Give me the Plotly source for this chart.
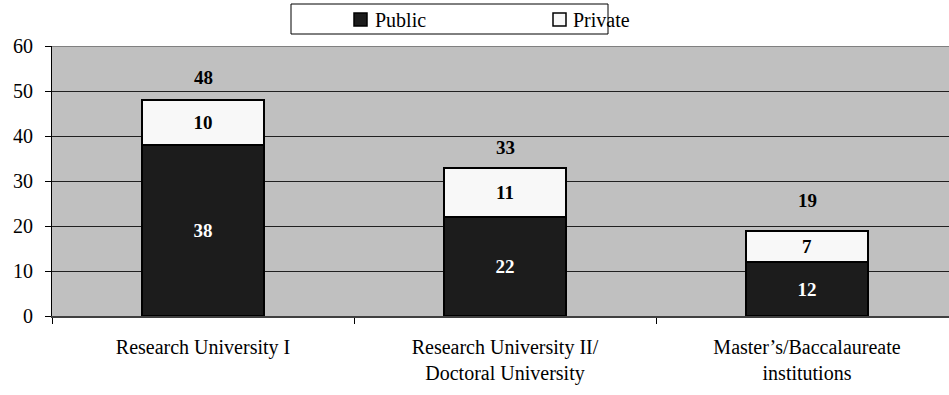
import plotly.graph_objects as go

# Institutions by Carnegie classification, split by control
categories = ["Research University I",
              "Research University II/<br>Doctoral University",
              "Master\u2019s/Baccalaureate<br>institutions"]
public = [38, 22, 12]
private = [10, 11, 7]
series_names = ["Public", "Private"]

totals = [a + b for a, b in zip(public, private)]

# Figure geometry (pixels)
W, H = 949, 395
ML, MR, MT, MB = 52, 0, 46, 79
PW, PH = W - ML - MR, H - MT - MB
CAT_PX = 302  # pixel width of one category slot

FONT = "Liberation Serif"
DARK = "#1c1c1c"
LIGHT = "#f8f8f8"


def px_x(p):
    return (p - ML) / PW


def px_y(p):
    return (H - MB - p) / PH


fig = go.Figure()
fig.add_trace(go.Bar(
    x=categories, y=public, name=series_names[0],
    marker=dict(color=DARK, line=dict(color="black", width=2)),
    text=public, texttemplate="<b>%{text}</b>",
    textposition="inside", insidetextanchor="middle",
    textfont=dict(color="white", size=19, family=FONT),
    width=0.404, showlegend=False,
))
fig.add_trace(go.Bar(
    x=categories, y=private, name=series_names[1],
    marker=dict(color=LIGHT, line=dict(color="black", width=2)),
    text=private, texttemplate="<b>%{text}</b>",
    textposition="inside", insidetextanchor="middle",
    textfont=dict(color="black", size=19, family=FONT),
    width=0.404, showlegend=False,
))

# Total labels above each stack
total_lift_px = [23, 20, 30]
for cat, tot, lift in zip(categories, totals, total_lift_px):
    fig.add_annotation(x=cat, y=tot, text=f"<b>{tot}</b>", showarrow=False,
                       yanchor="middle", yshift=lift,
                       font=dict(size=19, color="black", family=FONT))

# Top border of the plot area
fig.add_shape(type="line", xref="paper", yref="y", x0=0, x1=1, y0=60, y1=60,
              line=dict(color="#808080", width=2))

# Legend box drawn at the top
fig.add_shape(type="rect", xref="paper", yref="paper",
              x0=px_x(291), x1=px_x(608), y0=px_y(34), y1=px_y(4),
              line=dict(color="black", width=1), fillcolor="white")
legend_items = [(series_names[0], DARK, 354, 373), (series_names[1], LIGHT, 553, 571)]
for name, col, sq, tx in legend_items:
    fig.add_shape(type="rect", xref="paper", yref="paper",
                  x0=px_x(sq), x1=px_x(sq + 13), y0=px_y(26), y1=px_y(13),
                  line=dict(color="black", width=1.5), fillcolor=col)
    fig.add_annotation(xref="paper", yref="paper", x=px_x(tx), y=px_y(20),
                       text=name, showarrow=False, xanchor="left", yanchor="middle",
                       font=dict(size=20, color="black", family=FONT))

x_end = -0.5 + PW / CAT_PX

fig.update_layout(
    width=W, height=H,
    margin=dict(l=ML, r=MR, t=MT, b=MB, pad=0),
    barmode="stack",
    paper_bgcolor="white",
    plot_bgcolor="#c0c0c0",
    font=dict(family=FONT, color="black"),
    showlegend=False,
    xaxis=dict(
        type="category", range=[-0.5, x_end],
        tickson="boundaries", ticks="outside", ticklen=6, tickcolor="black",
        showline=True, linecolor="#404040", linewidth=2,
        showgrid=False, tickfont=dict(size=20, family=FONT),
        ticklabelstandoff=12,
    ),
    yaxis=dict(
        range=[0, 60], dtick=10, ticks="outside", ticklen=6, tickcolor="black",
        showline=True, linecolor="black", linewidth=1,
        showgrid=True, gridcolor="#202020", gridwidth=1,
        zeroline=False, tickfont=dict(size=20, family=FONT),
        ticklabelstandoff=8,
    ),
)

fig.write_html("out.html")
